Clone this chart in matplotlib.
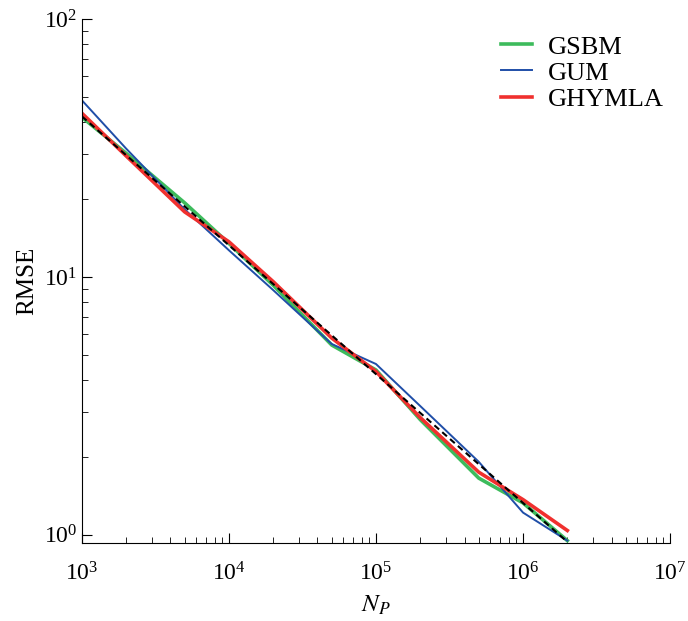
import matplotlib
matplotlib.use("Agg")
import matplotlib.pyplot as plt
import numpy as np

plt.rcParams['font.family'] = ['Liberation Serif', 'DejaVu Serif']
plt.rcParams['mathtext.fontset'] = 'stix'

# number of particles
n_p = [1e3, 2e3, 5e3, 1e4, 2e4, 5e4, 1e5, 2e5, 5e5, 1e6, 2e6]

# RMSE per method
rmse_gsbm = [41.7, 30.2, 19.4, 13.5, 9.3, 5.45, 4.36, 2.8, 1.66, 1.33, 0.95]
rmse_gum = [48.5, 31.5, 18.3, 12.7, 8.9, 5.5, 4.6, 3.16, 1.92, 1.22, 0.95]
rmse_ghymla = [43.2, 29.5, 17.9, 13.7, 9.6, 5.8, 4.3, 2.85, 1.75, 1.37, 1.04]

# 1/sqrt(N) reference
ref_x = [1e3, 2e6]
ref_y = [42.0, 0.94]

fig, ax = plt.subplots(figsize=(6.88, 6.21), dpi=100)
fig.subplots_adjust(left=0.119, right=0.974, bottom=0.1256, top=0.969)

ax.plot(n_p, rmse_gsbm, color="#3dbb5c", linewidth=2.6, label="GSBM")
ax.plot(n_p, rmse_gum, color="#1f4ea8", linewidth=1.4, label="GUM")
ax.plot(n_p, rmse_ghymla, color="#f0302e", linewidth=2.6, label="GHYMLA")
ax.plot(ref_x, ref_y, color="black", linestyle=(0, (3, 2)), linewidth=1.5)

ax.set_xscale("log")
ax.set_yscale("log")
ax.set_xlim(1e3, 1e7)
ax.set_ylim(0.93, 100)

for s in ["top", "right"]:
    ax.spines[s].set_visible(False)
ax.tick_params(which="both", direction="in", labelsize=17)
ax.tick_params(which="major", length=7)
ax.tick_params(which="minor", length=4)
ax.tick_params(axis="x", pad=14)

ax.set_xlabel("$N_P$", fontsize=18, labelpad=6)
ax.set_ylabel("RMSE", fontsize=18)

ax.legend(loc="upper right", frameon=False, fontsize=19, handlelength=1.15,
          handletextpad=0.6, labelspacing=0.1, bbox_to_anchor=(1.029, 1.015))

fig.savefig("out.png", dpi=100)
